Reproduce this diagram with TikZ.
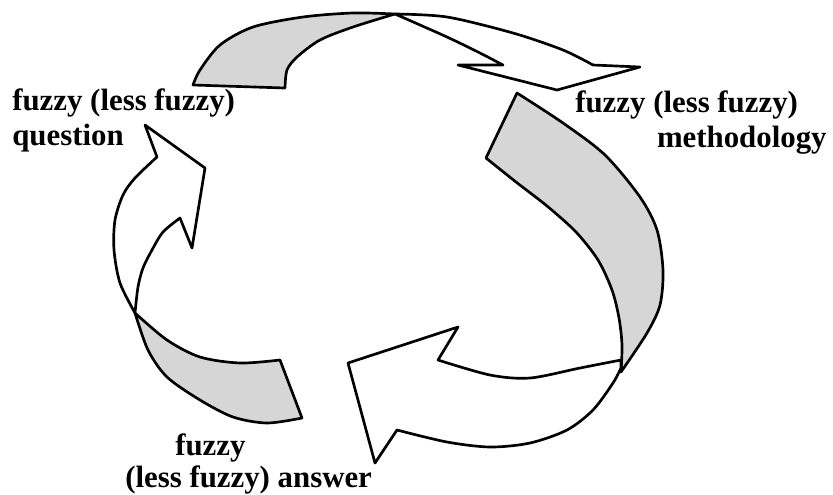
\documentclass[tikz,border=0pt]{standalone}
\usepackage{fontspec}
\setmainfont{Liberation Serif}
\usepackage{tikz}
\usetikzlibrary{positioning}

\begin{document}
\begin{tikzpicture}[
  x=0.6pt, y=-0.6pt,
  tail/.style={draw, line width=1.6pt, line join=round, fill=black!16},
  shaft/.style={draw, line width=1.6pt, line join=round, fill=white},
  lbl/.style={inner sep=0pt, align=left, anchor=north west,
    font=\bfseries\fontsize{18.5}{21.5}\selectfont}
]
\useasboundingbox (0,0) rectangle (833,494);
% top ribbon: shaded tail, then white shaft with head
\path[tail] plot[smooth] coordinates {(193,85) (200,70) (220,45) (253,27) (303,17) (353,13) (395,14)}
  -- plot[smooth] coordinates {(395,14) (353,27) (320,40) (297,57) (287,70) (285,88)} -- cycle;
\path[shaft] plot[smooth] coordinates {(395,14) (447,17) (513,33) (563,50) (593,65)}
  -- (640,67) -- (557,90) -- (458,65) -- (503,65)
  -- plot[smooth] coordinates {(503,65) (480,53) (447,37) (395,14)} -- cycle;
% right ribbon
\path[tail] plot[smooth] coordinates {(517,93) (563,123) (605,155) (640,197) (657,230) (663,270) (660,305) (647,333) (621,372)}
  -- plot[smooth] coordinates {(621,372) (622,345) (619,318) (612,290) (598,260) (576,232) (547,206) (516,182) (486,158)} -- cycle;
\path[shaft] plot[smooth] coordinates {(621,360) (580,368) (530,378) (490,375) (438,360)}
  -- (458,327) -- (348,363) -- (375,463) -- (397,430)
  -- plot[smooth] coordinates {(397,430) (447,442) (490,447) (530,443) (567,430) (593,410) (613,383) (621,368)} -- cycle;
% left ribbon
\path[tail] plot[smooth] coordinates {(135,313) (167,340) (200,357) (240,363) (280,360)} -- (302,418)
  -- plot[smooth] coordinates {(302,418) (267,423) (233,417) (200,400) (167,377) (148,350) (135,313)} -- cycle;
\path[shaft] plot[smooth] coordinates {(135,313) (120,283) (114,250) (115,220) (123,195) (135,178) (157,157)}
  -- (145,125) -- (205,168) -- (192,248) -- (180,218)
  -- plot[smooth] coordinates {(180,218) (163,232) (152,250) (143,268) (138,287) (135,313)} -- cycle;
% labels
\node[lbl] (q) at (12,88) {fuzzy (less fuzzy)\\question};
\node[lbl] (m) at (575,90) {fuzzy (less fuzzy)\\\hspace*{49pt}methodology};
\node[lbl, font=\bfseries\fontsize{18.5}{19.5}\selectfont] (ans) at (125,433) {\hspace*{30pt}fuzzy\\(less fuzzy) answer};
\end{tikzpicture}
\end{document}
